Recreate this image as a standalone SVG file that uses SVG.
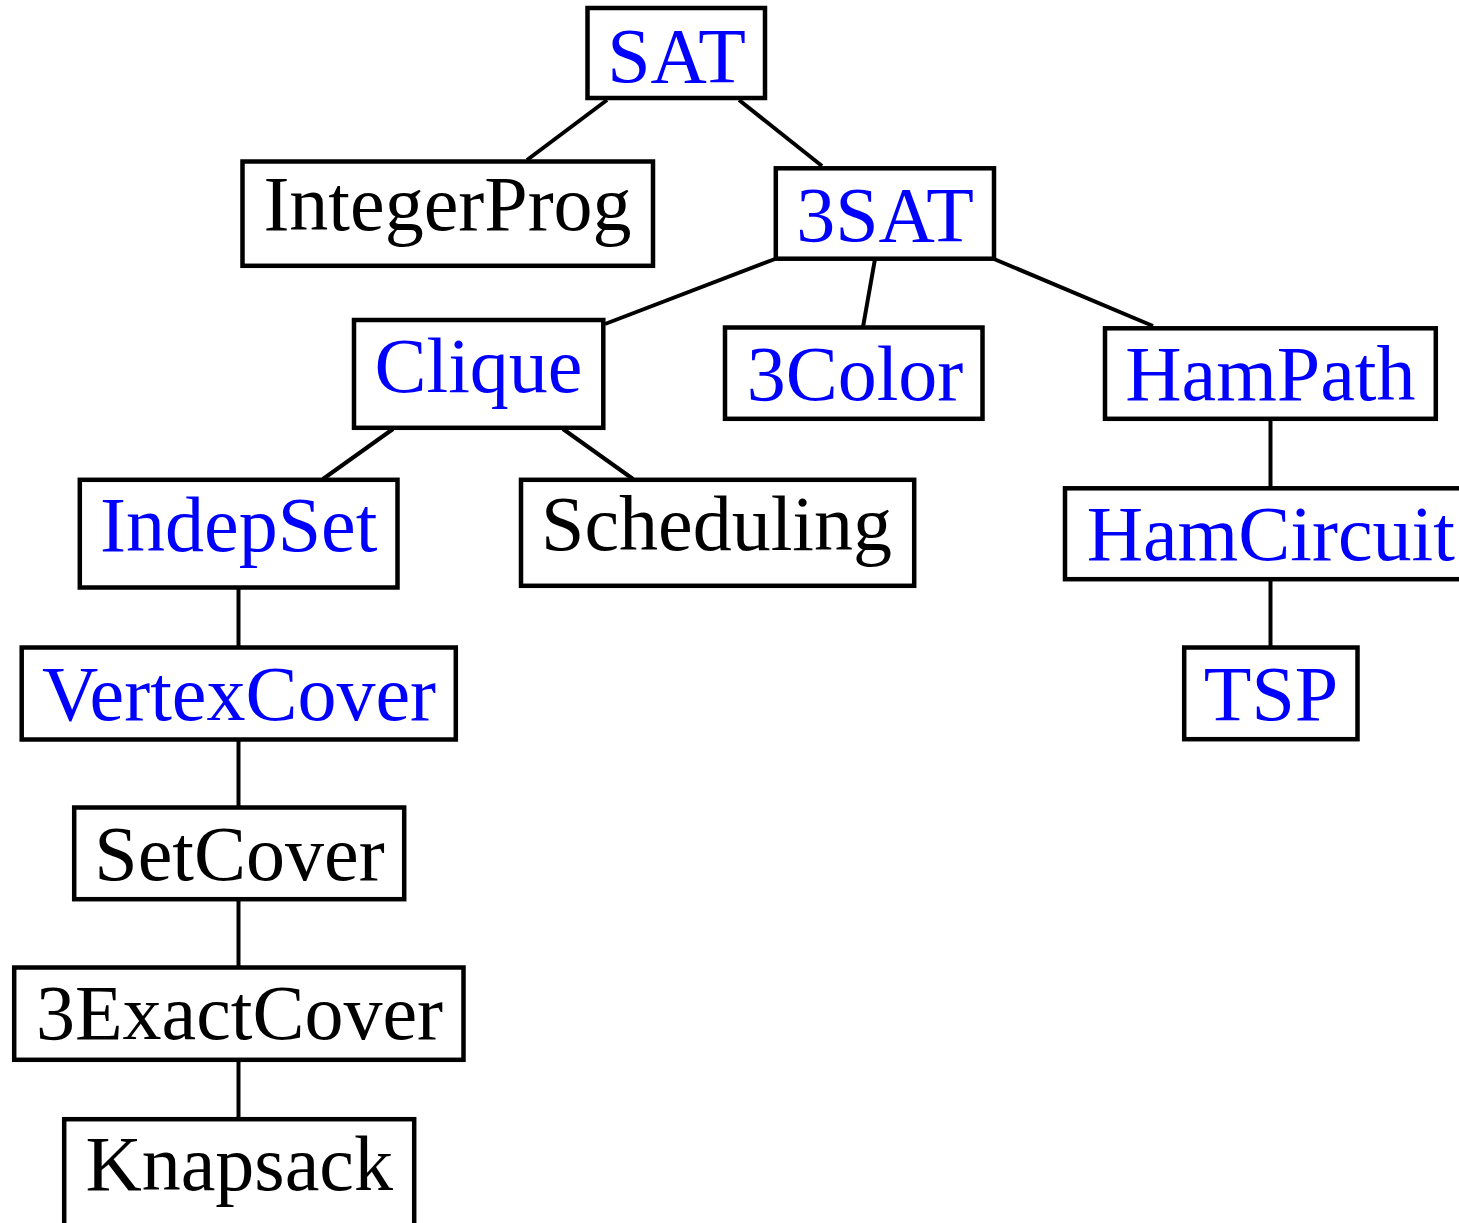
<svg xmlns="http://www.w3.org/2000/svg" width="1459" height="1223" viewBox="0 0 1459 1223">
<style>
rect{fill:#fff;stroke:#000;stroke-width:4.5}
text{font-family:"Liberation Serif","Times New Roman",serif;font-size:78px;text-anchor:middle}
.b{fill:#0000ff}
.k{fill:#000}
#edges line{stroke:#000;stroke-width:4}
</style>
<rect x="0" y="0" width="1459" height="1223" style="stroke:none;fill:#fff"/>
<g id="edges">
<line x1="607" y1="100" x2="527" y2="160"/>
<line x1="739" y1="100" x2="822" y2="166"/>
<line x1="775" y1="259" x2="605" y2="324"/>
<line x1="875" y1="259" x2="863" y2="327"/>
<line x1="994" y1="259" x2="1153" y2="326"/>
<line x1="393" y1="429" x2="323" y2="479"/>
<line x1="563" y1="429" x2="633" y2="479"/>
<line x1="238.5" y1="588" x2="238.5" y2="647"/>
<line x1="238.5" y1="740" x2="238.5" y2="807"/>
<line x1="238.5" y1="900" x2="238.5" y2="967"/>
<line x1="238.5" y1="1060" x2="238.5" y2="1119"/>
<line x1="1270.5" y1="419" x2="1270.5" y2="488"/>
<line x1="1270.5" y1="580" x2="1270.5" y2="647"/>
</g>
<g id="SAT"><rect x="587.5" y="8" width="177.5" height="90"/><text class="b" x="676.5" y="82">SAT</text></g>
<g id="IntegerProg"><rect x="242.5" y="161.5" width="410.5" height="104.3"/><text class="k" x="447.5" y="230">IntegerProg</text></g>
<g id="3SAT"><rect x="775.8" y="168.3" width="218.2" height="90.4"/><text class="b" x="885" y="241">3SAT</text></g>
<g id="Clique"><rect x="354" y="320" width="249.3" height="107.8"/><text class="b" x="478.5" y="391.7">Clique</text></g>
<g id="3Color"><rect x="725" y="327.5" width="257.5" height="91.3"/><text class="b" x="855" y="400">3Color</text></g>
<g id="HamPath"><rect x="1105" y="328.3" width="330.8" height="90.5"/><text class="b" x="1270.4" y="400">HamPath</text></g>
<g id="IndepSet"><rect x="79.8" y="479.8" width="317.7" height="107.7"/><text class="b" x="238.7" y="551">IndepSet</text></g>
<g id="Scheduling"><rect x="521" y="479.8" width="393.2" height="106"/><text class="k" x="716.5" y="550">Scheduling</text></g>
<g id="HamCircuit"><rect x="1065" y="488.3" width="411" height="90.9"/><text class="b" x="1270.8" y="560">HamCircuit</text></g>
<g id="VertexCover"><rect x="21.7" y="647.5" width="434.1" height="92"/><text class="b" x="239" y="720">VertexCover</text></g>
<g id="TSP"><rect x="1184.2" y="647.5" width="173.3" height="91.7"/><text class="b" x="1271" y="720">TSP</text></g>
<g id="SetCover"><rect x="74.2" y="807.5" width="330" height="91.7"/><text class="k" x="239.5" y="880">SetCover</text></g>
<g id="3ExactCover"><rect x="14.2" y="967.5" width="449.3" height="92.3"/><text class="k" x="239.5" y="1039.3">3ExactCover</text></g>
<g id="Knapsack"><rect x="64.2" y="1119.2" width="350" height="107"/><text class="k" x="239.2" y="1190">Knapsack</text></g>
</svg>
